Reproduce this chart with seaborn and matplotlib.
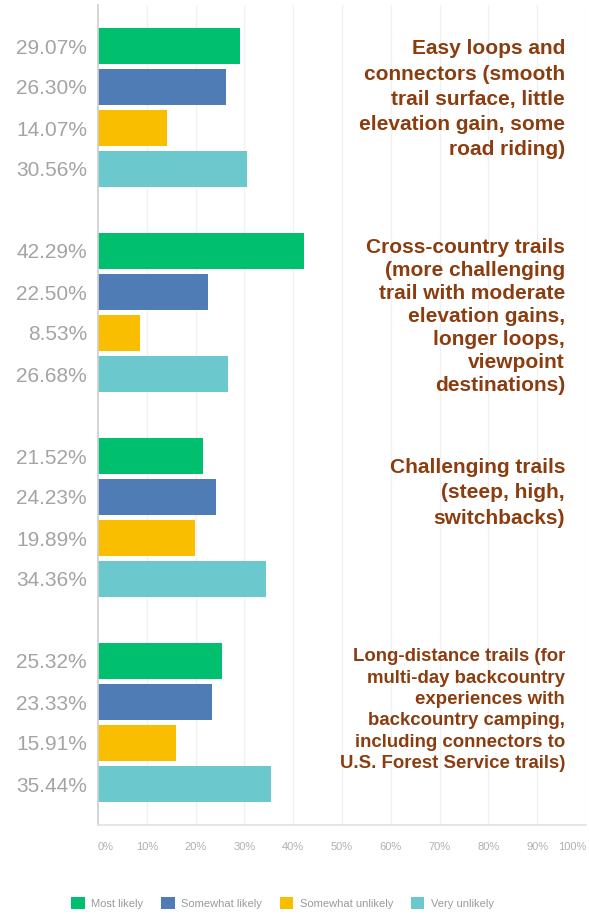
import pandas as pd
import seaborn as sns
import matplotlib.pyplot as plt
from matplotlib.patches import Patch

# Survey answers, one list per trail type (percent of respondents)
RESPONSES = ["Most likely", "Somewhat likely", "Somewhat unlikely", "Very unlikely"]
EASY_LOOPS = [29.07, 26.30, 14.07, 30.56]
CROSS_COUNTRY = [42.29, 22.50, 8.53, 26.68]
CHALLENGING = [21.52, 24.23, 19.89, 34.36]
LONG_DISTANCE = [25.32, 23.33, 15.91, 35.44]

TRAIL_LABELS = [
    "Easy loops and\nconnectors (smooth\ntrail surface, little\nelevation gain, some\nroad riding)",
    "Cross-country trails\n(more challenging\ntrail with moderate\nelevation gains,\nlonger loops,\nviewpoint\ndestinations)",
    "Challenging trails\n(steep, high,\nswitchbacks)",
    "Long-distance trails (for\nmulti-day backcountry\nexperiences with\nbackcountry camping,\nincluding connectors to\nU.S. Forest Service trails)",
]
X_TICKS = [0, 10, 20, 30, 40, 50, 60, 70, 80, 90, 100]

COLORS = ["#00bf6f", "#507cb6", "#f9be00", "#6bc8cd"]
LABEL_COLOR = "#8b3d0f"
LABEL_Y = [1.3, 6.6, 10.9, 16.2]
LABEL_SIZE = [15, 15, 15, 13.4]
LABEL_SPACING = [1.41, 1.26, 1.41, 1.34]

# one row per bar; every trail group takes 5 slots (4 bars + gap)
rows = []
for g, vals in enumerate([EASY_LOOPS, CROSS_COUNTRY, CHALLENGING, LONG_DISTANCE]):
    for i, (resp, v) in enumerate(zip(RESPONSES, vals)):
        rows.append({"slot": g * 5 + i, "value": v, "response": resp})
df = pd.DataFrame(rows)

sns.set_theme(style="white")
plt.rcParams["font.family"] = ["Liberation Sans", "DejaVu Sans"]

fig = plt.figure(figsize=(5.89, 9.15), dpi=100)
ax = fig.add_axes([98 / 589, 90 / 915, 488 / 589, 820 / 915])

sns.barplot(data=df, x="value", y="slot", hue="response", hue_order=RESPONSES,
            palette=COLORS, saturation=1, orient="h", native_scale=True, dodge=False,
            width=0.88, linewidth=0, legend=False, ax=ax)

ax.set_xlim(0, 100)
ax.set_ylim(19, -1)
ax.set_xlabel("")
ax.set_ylabel("")

# vertical grid
for t in X_TICKS[1:]:
    ax.axvline(t, color="#f1f1f1", lw=1, zorder=0)

ax.set_yticks(df["slot"])
ax.set_yticklabels([f"{v:.2f}%" for v in df["value"]], fontsize=15, color="#a4a4a4")
ax.set_xticks(X_TICKS)
xl = ax.set_xticklabels([f"{t}%" for t in X_TICKS], fontsize=8, color="#b0b0b0")
xl[0].set_ha("left")
xl[-1].set_ha("right")
ax.tick_params(axis="y", length=0, pad=8)
ax.tick_params(axis="x", length=0, pad=12)

for side in ["top", "right"]:
    ax.spines[side].set_visible(False)
ax.spines["left"].set_color("#cfcfcf")
ax.spines["bottom"].set_color("#e2e2e2")

for txt, y, fs, ls in zip(TRAIL_LABELS, LABEL_Y, LABEL_SIZE, LABEL_SPACING):
    ax.text(95.7, y, txt, ha="right", va="center", multialignment="right",
            fontsize=fs, fontweight="bold", color=LABEL_COLOR, linespacing=ls)

handles = [Patch(facecolor=c, edgecolor="none") for c in COLORS]
fig.legend(handles, RESPONSES, loc="center", bbox_to_anchor=(0.48, 1 - 903 / 915),
           ncol=4, frameon=False, fontsize=8, labelcolor="#9a9a9a",
           handlelength=1.2, handleheight=1.2, handletextpad=0.6, columnspacing=1.6)

fig.savefig("out.png", dpi=100)
